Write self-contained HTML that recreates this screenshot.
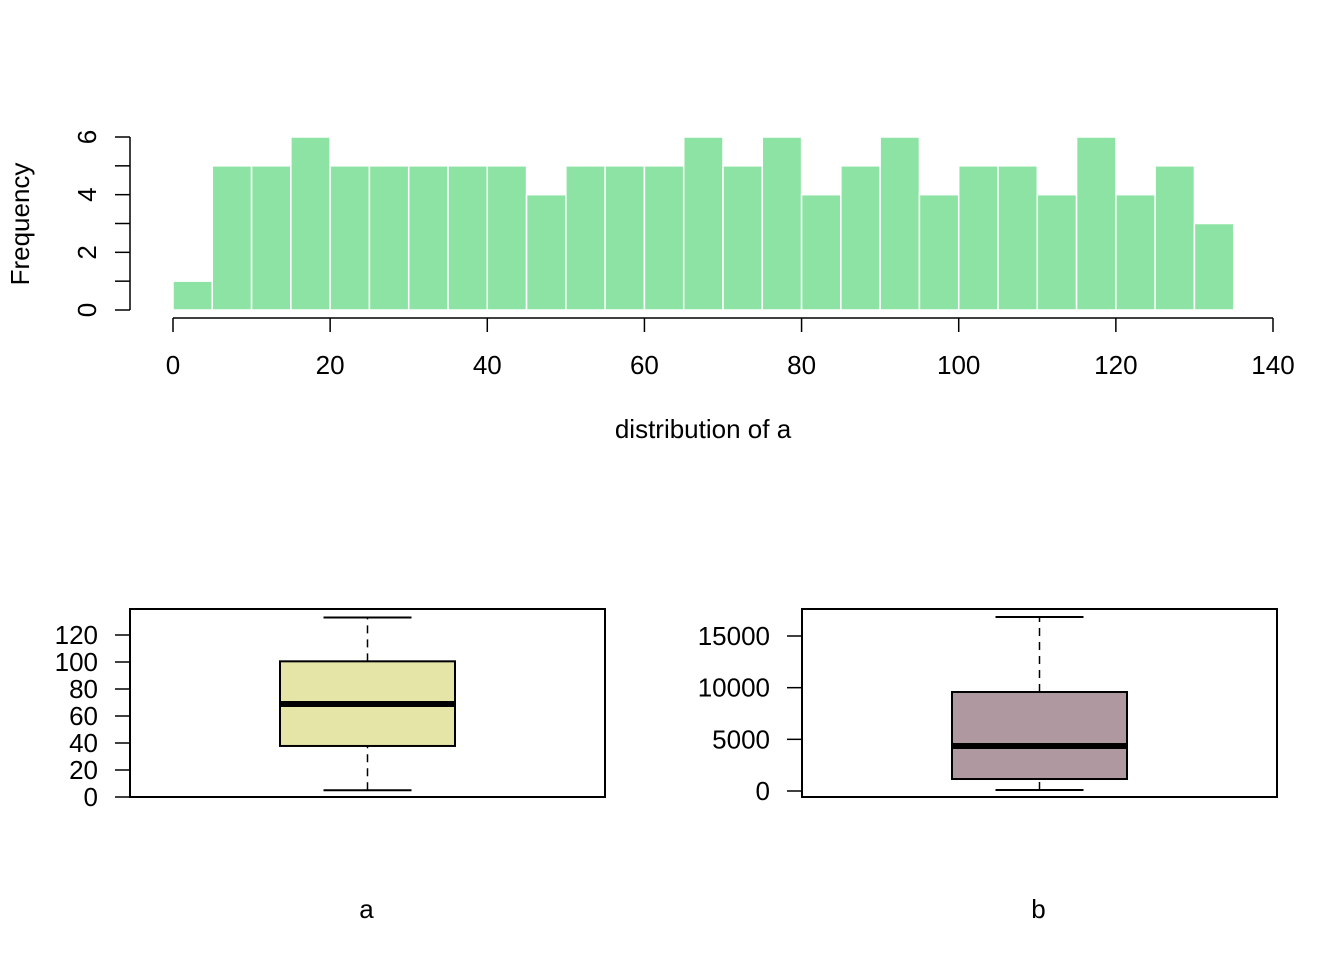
<!DOCTYPE html>
<html><head><meta charset="utf-8"><style>
html,body{margin:0;padding:0;background:#fff;}
svg text{font-family:"Liberation Sans",Arial,sans-serif;fill:#000;}
</style></head><body>
<svg id="c" width="1344" height="960" xmlns="http://www.w3.org/2000/svg"></svg>
<script>
const histCounts=[1,5,5,6,5,5,5,5,5,4,5,5,5,6,5,6,4,5,6,4,5,5,4,6,4,5,3];
const binWidth=5;
const histXTicks=[0,20,40,60,80,100,120,140];
const histYTicks=[0,1,2,3,4,5,6];
const histYLabels=[0,2,4,6];
const boxA=[5,37.8,68.9,100.5,133];
const boxB=[100,1160,4350,9580,16840];
const boxATicks=[0,20,40,60,80,100,120];
const boxBTicks=[0,5000,10000,15000];

const FS=26;
const svg=document.getElementById('c');
const NS='http://www.w3.org/2000/svg';
function mk(tag,attrs,parent){const e=document.createElementNS(NS,tag);for(const k in attrs)e.setAttribute(k,attrs[k]);(parent||svg).appendChild(e);return e;}

const hx=v=>173+v*(1273-173)/140;
const hy=v=>310-v*(310-137)/6;
const hg=mk('g',{});


histCounts.forEach((c,i)=>{
  const r=mk('rect',{x:hx(i*binWidth),y:hy(c),width:hx((i+1)*binWidth)-hx(i*binWidth),height:hy(0)-hy(c),fill:'#8DE3A4',stroke:'#fff','stroke-width':1.5},hg);
  
  
});
const xa=mk('g',{stroke:'#000','stroke-width':1.5});


mk('line',{x1:hx(histXTicks[0]),x2:hx(histXTicks[histXTicks.length-1]),y1:318,y2:318},xa);
histXTicks.forEach(t=>{
  mk('line',{x1:hx(t),x2:hx(t),y1:318,y2:332},xa);
  const tx=mk('text',{x:hx(t),y:374,'text-anchor':'middle','font-size':FS,stroke:'none'});
  tx.textContent=t;
  
  
});
const ya=mk('g',{stroke:'#000','stroke-width':1.5});


mk('line',{x1:130,x2:130,y1:hy(6),y2:hy(0)},ya);
histYTicks.forEach(t=>mk('line',{x1:115,x2:130,y1:hy(t),y2:hy(t)},ya));
histYLabels.forEach(t=>{
  const tx=mk('text',{x:0,y:0,transform:`translate(96,${hy(t)}) rotate(-90)`,'text-anchor':'middle','font-size':FS});
  tx.textContent=t;
  
  
});
let t1=mk('text',{x:0,y:0,transform:'translate(29,224) rotate(-90)','text-anchor':'middle','font-size':FS});
t1.textContent='Frequency';


let t2=mk('text',{x:703,y:438,'text-anchor':'middle','font-size':FS});
t2.textContent='distribution of a';



function boxplot(x0,y0s,ymax,yscale0,ticks,stats,fill,label,name){
  const g=mk('g',{});
  
  
  const y=v=>y0s-v*yscale0;
  mk('rect',{x:x0,y:609,width:475,height:188,fill:'none',stroke:'#000','stroke-width':2},g);
  mk('line',{x1:x0,x2:x0,y1:y(ticks[0]),y2:y(ticks[ticks.length-1]),stroke:'#000','stroke-width':1.5},g);
  ticks.forEach(t=>{
    mk('line',{x1:x0-15,x2:x0,y1:y(t),y2:y(t),stroke:'#000','stroke-width':1.5},g);
    const tx=mk('text',{x:x0-32,y:y(t)+9,'text-anchor':'end','font-size':FS},g);
    tx.textContent=t;
    
    
  });
  const cx=x0+237.5;
  mk('line',{x1:cx,x2:cx,y1:y(stats[0]),y2:y(stats[1]),stroke:'#000','stroke-width':1.5,'stroke-dasharray':'8,6'},g);
  mk('line',{x1:cx,x2:cx,y1:y(stats[3]),y2:y(stats[4]),stroke:'#000','stroke-width':1.5,'stroke-dasharray':'8,6'},g);
  mk('line',{x1:cx-44,x2:cx+44,y1:y(stats[0]),y2:y(stats[0]),stroke:'#000','stroke-width':2},g);
  mk('line',{x1:cx-44,x2:cx+44,y1:y(stats[4]),y2:y(stats[4]),stroke:'#000','stroke-width':2},g);
  const b=mk('rect',{x:cx-87.5,y:y(stats[3]),width:175,height:y(stats[1])-y(stats[3]),fill:fill,stroke:'#000','stroke-width':2},g);
  
  
  mk('line',{x1:cx-87.5,x2:cx+87.5,y1:y(stats[2]),y2:y(stats[2]),stroke:'#000','stroke-width':6},g);
  const l=mk('text',{x:cx-1,y:918,'text-anchor':'middle','font-size':FS},g);
  l.textContent=label;
  
  
}
boxplot(130,797,0,(797-635)/120,boxATicks,boxA,'#E5E5A7','a','boxplot-a');
boxplot(802,791,0,(791-636)/15000,boxBTicks,boxB,'#B098A1','b','boxplot-b');
</script>
</body></html>
